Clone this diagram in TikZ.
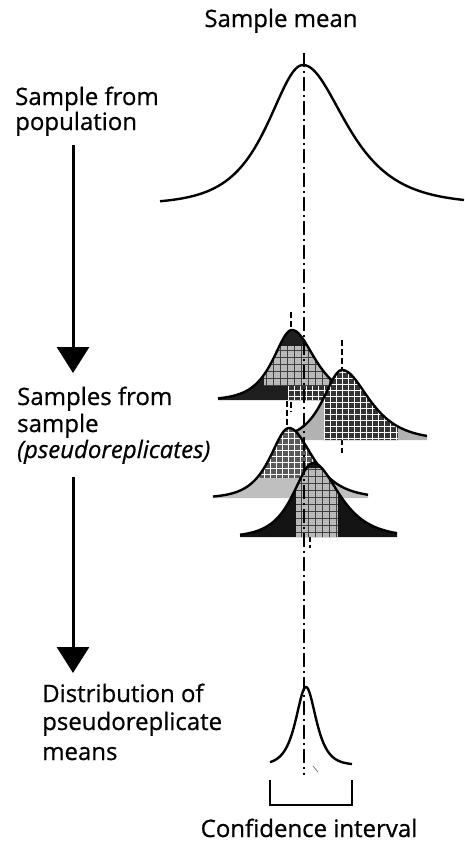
\documentclass[tikz,border=0pt]{standalone}
\usepackage{fontspec}
\setmainfont{Open Sans}[FakeBold=0.7]
\usetikzlibrary{arrows.meta,calc}

% Bell profile: from, to, baseline, height, mean, left width, right width
\newcommand\bellprofile[7]{%
  plot[domain=#1:#2,samples=160] (\x,{#3-#4/cosh((\x-#5)/(\x<#5?#6:#7))})}
% Closed area under a bell profile, down to its baseline
\newcommand\bellarea[7]{%
  \bellprofile{#1}{#2}{#3}{#4}{#5}{#6}{#7} -- (#2,#3) -- (#1,#3) -- cycle}

\tikzset{
  lbl/.style={font=\fontsize{24}{28}\selectfont, inner sep=0pt, anchor=base west},
  curve/.style={line width=2.4pt, line join=round},
  bigarrow/.style={line width=3pt, -{Triangle[width=32pt,length=26pt]}},
  meanline/.style={line width=1.6pt, dash pattern=on 14pt off 4pt on 2pt off 4pt},
  submean/.style={line width=1.3pt, dash pattern=on 6pt off 3pt},
  whitegrid/.style={white, line width=1pt},
  darkgrid/.style={black!75, line width=1pt},
}

\begin{document}
\begin{tikzpicture}[x=1pt,y=-1pt]
\useasboundingbox (0,0) rectangle (464,844);

% ---- labels ----
\node[lbl, anchor=base] (mean) at (281,27) {Sample mean};
\node[lbl] (pop1) at (15,105) {Sample from};
\node[lbl] (pop2) at (15,130) {population};
\node[lbl] (rep1) at (17,405) {Samples from};
\node[lbl] (rep2) at (17,432) {sample};
\node[lbl] (rep3) at (17,458) {\itshape (pseudoreplicates)};
\node[lbl] (dist1) at (42,702) {Distribution of};
\node[lbl] (dist2) at (42,730) {pseudoreplicate};
\node[lbl] (dist3) at (42,760) {means};
\node[lbl, anchor=base] (ci) at (309,837) {Confidence interval};

% ---- downward arrows on the left ----
\coordinate (ax) at (73,0);
\draw[bigarrow] ($(pop2.base -| ax)+(0,15)$) -- ($(rep1.base -| ax)+(0,-32)$);
\draw[bigarrow] ($(rep3.base -| ax)+(0,19)$) -- ($(dist1.base -| ax)+(0,-29)$);

% ---- population curve ----
\draw[curve] \bellprofile{160}{464}{204}{139}{303}{31}{38};

% ---- means of the individual pseudoreplicates ----
\draw[submean] (291,312) -- (291,412);
\draw[submean] (342,340) -- (342,453);
\draw[submean] (287,401) -- (287,430);
\draw[submean] (310,455) -- (310,548);

% ---- pseudoreplicate A ----
\begin{scope}
  \clip \bellarea{218}{336}{400}{70}{292}{16.7}{20.5};
  \fill[black!88] (210,320) rectangle (340,402);
  \fill[gray!55] (264,346) rectangle (340,386);
  \draw[darkgrid, step=7pt] (264,346) grid (340,386);
  \fill[black!80] (288,386) rectangle (340,402);
  \draw[whitegrid, step=6pt] (288,386) grid (340,402);
\end{scope}
\draw[curve] \bellprofile{218}{336}{400}{70}{292}{16.7}{20.5};

% ---- pseudoreplicate B ----
\begin{scope}
  \clip \bellarea{292}{427}{440}{70}{342}{16.7}{24};
  \fill[gray!60] (290,360) rectangle (430,442);
  \fill[black!80] (324,360) rectangle (398,442);
  \draw[whitegrid, step=6pt] (324,360) grid (398,442);
\end{scope}
\draw[curve] \bellprofile{292}{427}{440}{70}{342}{16.7}{24};

% ---- pseudoreplicate C ----
\begin{scope}
  \clip \bellarea{213}{368}{498}{70}{289}{16.7}{21};
  \fill[gray!50] (210,420) rectangle (370,500);
  \fill[black!65] (260,424) rectangle (324,478);
  \draw[whitegrid, step=6pt] (260,424) grid (324,478);
\end{scope}
\draw[curve] \bellprofile{213}{368}{498}{70}{289}{16.7}{21};

% ---- pseudoreplicate D ----
\begin{scope}
  \clip \bellarea{240}{397}{537}{74}{313}{17.5}{23};
  \fill[black!92] (238,455) rectangle (400,539);
  \fill[gray!55] (296,468) rectangle (338,539);
  \draw[darkgrid, step=7pt] (296,468) grid (338,539);
\end{scope}
\draw[curve] \bellprofile{240}{397}{537}{74}{313}{17.5}{23};

% ---- distribution of pseudoreplicate means ----
\draw[curve] \bellprofile{270}{352}{765}{78}{306}{9}{9};
\draw[gray, line width=0.8pt] (313,766) -- (318,772);

% ---- sample mean line ----
\coordinate (mtop) at (304,53);
\coordinate (mbot) at (304,775);
\draw[meanline] (mtop) -- (mbot);

% ---- confidence interval bracket ----
\coordinate (cil) at (270,780);
\coordinate (cir) at (352,780);
\draw[line width=2pt] (cil) -- ++(0,25) -| (cir);
\end{tikzpicture}
\end{document}
